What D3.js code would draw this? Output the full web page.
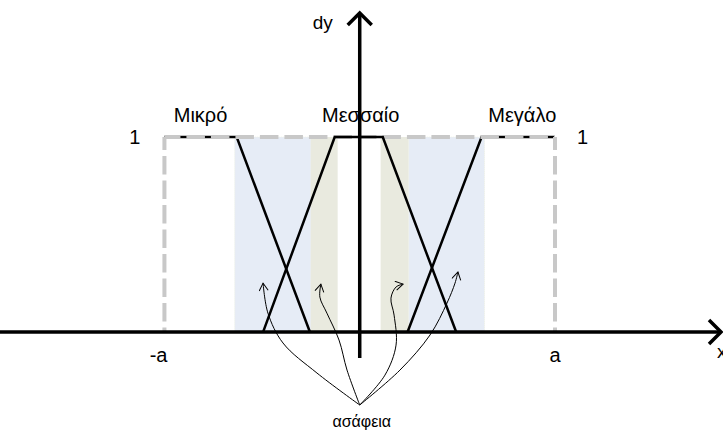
<!DOCTYPE html>
<html>
<head>
<meta charset="utf-8">
<script src="https://cdn.jsdelivr.net/npm/d3@7"></script>
<style>
  body { margin: 0; background: #fff; }
  text { font-family: "Liberation Sans", Arial, sans-serif; fill: #000; }
</style>
</head>
<body>
<svg id="chart" width="723" height="430"></svg>
<script>
// fuzzy sets (x in units of a, y = membership)
let categories = ["Μικρό", "Μεσσαίο", "Μεγάλο"],
  small_x = [-1, -0.63, -0.255],
  small_y = [1, 1, 0],
  medium_x = [-0.495, -0.128, 0.118, 0.494],
  medium_y = [0, 1, 1, 0],
  large_x = [0.245, 0.624, 1],
  large_y = [0, 1, 1];

// regions of vagueness
let band_start = [-0.64, -0.25, 0.107, 0.251],
  band_end = [-0.25, -0.113, 0.251, 0.639],
  band_kind = ["blue", "beige", "beige", "blue"];

let x_tick_values = [-1, 1],
  x_tick_labels = ["-a", "a"],
  y_tick_values = [1],
  y_tick_labels = ["1"],
  fuzzy_label = "ασάφεια";

// the "ασάφεια" arrows, from the label up to each region
let arrow_origin = [0, -0.374],
  arrow1 = [[-0.219, -0.21], [-0.393, -0.056], [-0.47, 0.097], [-0.495, 0.251]],
  arrow2 = [[-0.065, -0.195], [-0.106, -0.041], [-0.168, 0.097], [-0.204, 0.179], [-0.199, 0.246]],
  arrow3 = [[0.129, -0.221], [0.186, -0.067], [0.176, 0.087], [0.16, 0.174], [0.186, 0.231], [0.222, 0.246]],
  arrow4 = [[0.206, -0.195], [0.36, -0.015], [0.447, 0.149], [0.488, 0.251], [0.503, 0.308]];

let width = 723,
  height = 430,
  band_fill = {blue: "#e6ecf6", beige: "#e9eadf"};

function make_scales() {
  return {
    x: d3.scaleLinear().domain([-1.842, 1.85]).range([0, 721]),
    y: d3.scaleLinear().domain([-0.133, 1.636]).range([358, 13])
  }
}

function zip(xs, ys) {
  return xs.map((v, i) => [v, ys[i]])
}

function draw_bands(svg, scales) {
  let bands = band_start.map((s, i) => ({s: s, e: band_end[i], kind: band_kind[i]}))
  svg.append("g").selectAll("rect")
    .data(bands).enter()
    .append("rect")
    .attr("x", d => scales.x(d.s))
    .attr("width", d => scales.x(d.e) - scales.x(d.s))
    .attr("y", scales.y(1))
    .attr("height", scales.y(0) - scales.y(1))
    .attr("fill", d => band_fill[d.kind])
    .attr("stroke", d => d.kind == "blue" ? "#eef1e6" : "none")
    .attr("stroke-dasharray", "1,1")
}

function draw_set(svg, scales, xs, ys) {
  let line = d3.line().x(d => scales.x(d[0])).y(d => scales.y(d[1]))
  svg.append("path")
    .datum(zip(xs, ys))
    .attr("d", line)
    .attr("fill", "none")
    .attr("stroke", "#000")
    .attr("stroke-width", 2.5)
}

function draw_frame(svg, scales) {
  let line = d3.line().x(d => scales.x(d[0])).y(d => scales.y(d[1])),
    g = svg.append("g")
      .attr("fill", "none")
      .attr("stroke", "#c8c8c8")
      .attr("stroke-width", 4)
      .attr("stroke-dasharray", "18.5,6")
  g.append("path").datum([[-1, 1], [1, 1]]).attr("d", line).attr("stroke-dashoffset", 2.5)
  g.append("path").datum([[-1, 1], [-1, 0]]).attr("d", line).attr("stroke-dashoffset", 5.5)
  g.append("path").datum([[1, 1], [1, 0]]).attr("d", line).attr("stroke-dashoffset", 5.5)
}

function draw_labels(svg, scales) {
  let flats = [[small_x[0], small_x[1]], [medium_x[1], medium_x[2]], [large_x[1], large_x[2]]],
    nudge = [0, 2, 4]
  svg.append("g").selectAll("text")
    .data(categories).enter()
    .append("text")
    .attr("x", (d, i) => scales.x((flats[i][0] + flats[i][1]) / 2) + nudge[i])
    .attr("y", scales.y(1) - 15)
    .attr("text-anchor", "middle")
    .attr("font-size", 20)
    .text(d => d)
}

function draw_axes(svg, scales) {
  let x0 = scales.x.domain()[0], x1 = scales.x.domain()[1],
    y0 = scales.y.domain()[0], y1 = scales.y.domain()[1],
    g = svg.append("g")
      .attr("fill", "none")
      .attr("stroke", "#000")
      .attr("stroke-width", 3.5)

  g.append("line")
    .attr("x1", scales.x(x0)).attr("x2", scales.x(x1))
    .attr("y1", scales.y(0)).attr("y2", scales.y(0))
  g.append("line")
    .attr("x1", scales.x(0)).attr("x2", scales.x(0))
    .attr("y1", scales.y(y0)).attr("y2", scales.y(y1))

  let tx = scales.x(x1), ty = scales.y(0)
  g.append("path").attr("d", `M${tx - 12},${ty - 12}L${tx},${ty}L${tx - 12},${ty + 12}`)
  tx = scales.x(0); ty = scales.y(y1)
  g.append("path").attr("d", `M${tx - 12},${ty + 12}L${tx},${ty}L${tx + 12},${ty + 12}`)

  svg.append("text")
    .attr("x", scales.x(0) - 47).attr("y", 29)
    .attr("font-size", 19)
    .text("dy")
  svg.append("text")
    .attr("x", scales.x(x1) - 4).attr("y", 358)
    .attr("font-size", 19)
    .text("x")

  svg.append("g").selectAll("text")
    .data(x_tick_values).enter()
    .append("text")
    .attr("x", (d, i) => scales.x(d) + (i == 0 ? 3 : 0))
    .attr("y", scales.y(0) + 30)
    .attr("text-anchor", (d, i) => i == 0 ? "end" : "middle")
    .attr("font-size", 20)
    .text((d, i) => x_tick_labels[i])

  let ticks = svg.append("g")
  y_tick_values.forEach((v, i) => {
    ticks.append("text")
      .attr("x", scales.x(-1) - 24).attr("y", scales.y(v) + 7)
      .attr("text-anchor", "end")
      .attr("font-size", 20)
      .text(y_tick_labels[i])
    ticks.append("text")
      .attr("x", scales.x(1) + 22).attr("y", scales.y(v) + 7)
      .attr("font-size", 20)
      .text(y_tick_labels[i])
  })
}

function draw_arrows(svg, scales) {
  svg.append("defs").append("marker")
    .attr("id", "open")
    .attr("markerUnits", "userSpaceOnUse")
    .attr("markerWidth", 12).attr("markerHeight", 12)
    .attr("refX", 9).attr("refY", 5)
    .attr("orient", "auto")
    .append("path")
    .attr("d", "M1.5,0.5L9,5L1.5,9.5")
    .attr("fill", "none")
    .attr("stroke", "#000")
    .attr("stroke-width", 1)

  let line = d3.line()
    .x(d => scales.x(d[0]))
    .y(d => scales.y(d[1]))
    .curve(d3.curveCatmullRom)
  svg.append("g").selectAll("path")
    .data([arrow1, arrow2, arrow3, arrow4]).enter()
    .append("path")
    .attr("d", d => line([arrow_origin].concat(d)))
    .attr("fill", "none")
    .attr("stroke", "#000")
    .attr("stroke-width", 1)
    .attr("marker-end", "url(#open)")

  svg.append("text")
    .attr("x", scales.x(arrow_origin[0]) + 2)
    .attr("y", 427)
    .attr("text-anchor", "middle")
    .attr("font-size", 16)
    .text(fuzzy_label)
}

function visualize() {
  let scales = make_scales(),
    svg = d3.select("#chart")
  draw_bands(svg, scales)
  draw_set(svg, scales, small_x, small_y)
  draw_set(svg, scales, large_x, large_y)
  draw_frame(svg, scales)
  draw_set(svg, scales, medium_x, medium_y)
  draw_labels(svg, scales)
  draw_axes(svg, scales)
  draw_arrows(svg, scales)
}

visualize()
</script>
</body>
</html>
